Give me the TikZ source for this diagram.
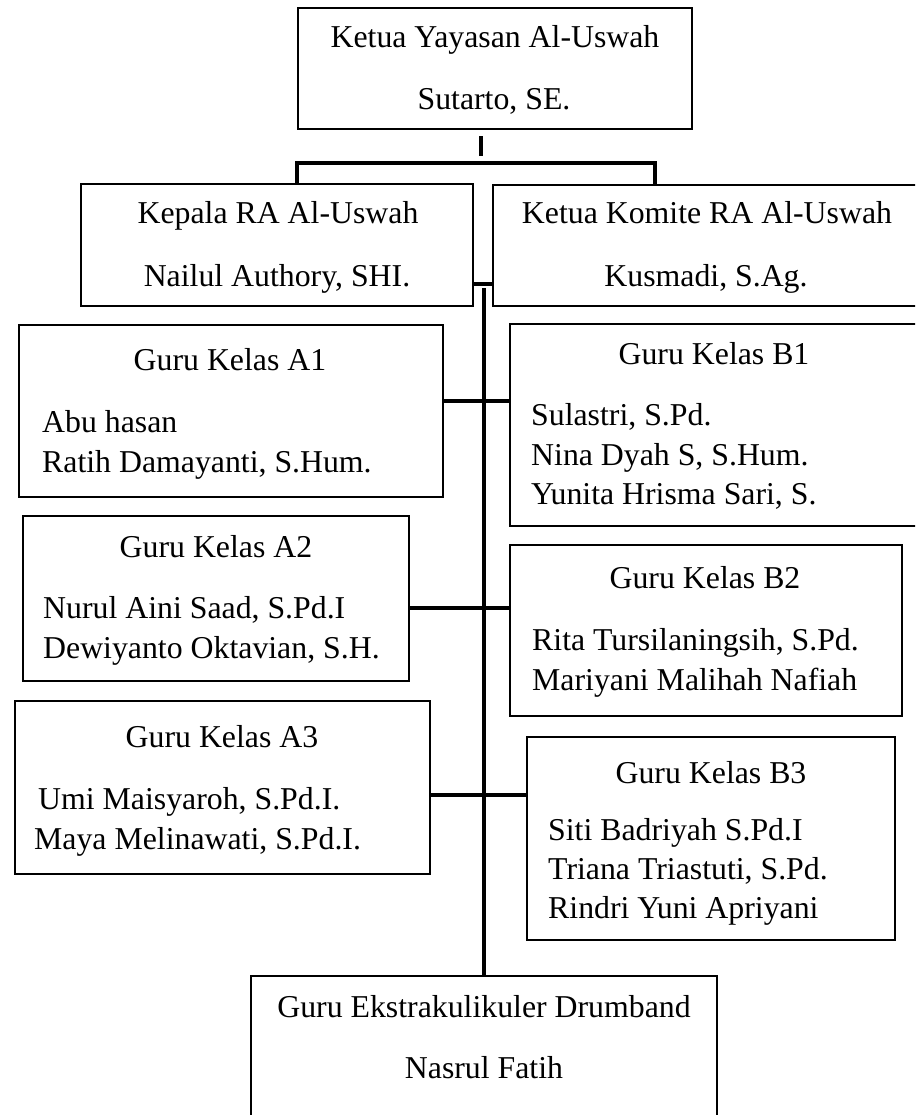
\documentclass[tikz,border=0pt]{standalone}
\usepackage{fontspec}
\setmainfont{Liberation Serif}
\usetikzlibrary{calc}
\begin{document}
\begin{tikzpicture}[x=1pt,y=-1pt,
  box/.style={draw, line width=2.4pt, rectangle, inner sep=0pt},
  conn/.style={line width=4.3pt},
  lbl/.style={anchor=base, inner sep=0pt, font=\fontsize{31.8pt}{40pt}\selectfont},
  lblw/.style={anchor=base west, inner sep=0pt, font=\fontsize{31.8pt}{40pt}\selectfont}]
\clip (0,0) rectangle (915,1115);
\fill[white] (0,0) rectangle (915,1115);
% boxes
\node[box, minimum width=394pt, minimum height=121pt] (top) at (495,68.5) {};
\node[box, minimum width=392pt, minimum height=122pt] (kep) at (277,245) {};
\node[box, minimum width=426pt, minimum height=121pt] (kom) at (706,245.5) {};
\node[box, minimum width=424pt, minimum height=172pt] (a1) at (231,411) {};
\node[box, minimum width=408pt, minimum height=202pt] (b1) at (714,425) {};
\node[box, minimum width=386pt, minimum height=165pt] (a2) at (216,598.5) {};
\node[box, minimum width=392pt, minimum height=171pt] (b2) at (706,630.5) {};
\node[box, minimum width=415pt, minimum height=173pt] (a3) at (222.5,787.5) {};
\node[box, minimum width=368pt, minimum height=203pt] (b3) at (711,838.5) {};
\node[box, minimum width=466pt, minimum height=149pt] (bot) at (484,1050.5) {};
% texts
\node[lbl] (t1) at (495,48) {Ketua Yayasan Al-Uswah};
\node[lbl] (t2) at (494,110) {Sutarto, SE.};
\node[lbl] (k1) at (278,223) {Kepala RA Al-Uswah};
\node[lbl] (k2) at (277,286) {Nailul Authory, SHI.};
\node[lbl] (m1) at (707,223) {Ketua Komite RA Al-Uswah};
\node[lbl] (m2) at (706,286) {Kusmadi, S.Ag.};
\node[lbl] (a1t) at (230,370) {Guru Kelas A1};
\node[lblw] (a1a) at (42,432) {Abu hasan};
\node[lblw] (a1b) at (42,472) {Ratih Damayanti, S.Hum.};
\node[lbl] (b1t) at (714,364) {Guru Kelas B1};
\node[lblw] (b1a) at (531,425) {Sulastri, S.Pd.};
\node[lblw] (b1b) at (531,465) {Nina Dyah S, S.Hum.};
\node[lblw] (b1c) at (531,504) {Yunita Hrisma Sari, S.};
\node[lbl] (a2t) at (216,557) {Guru Kelas A2};
\node[lblw] (a2a) at (43,618) {Nurul Aini Saad, S.Pd.I};
\node[lblw] (a2b) at (43,658) {Dewiyanto Oktavian, S.H.};
\node[lbl] (b2t) at (705,588) {Guru Kelas B2};
\node[lblw] (b2a) at (532,650) {Rita Tursilaningsih, S.Pd.};
\node[lblw] (b2b) at (532,690) {Mariyani Malihah Nafiah};
\node[lbl] (a3t) at (222,747) {Guru Kelas A3};
\node[lblw] (a3a) at (38,809) {Umi Maisyaroh, S.Pd.I.};
\node[lblw] (a3b) at (34,849) {Maya Melinawati, S.Pd.I.};
\node[lbl] (b3t) at (711,783) {Guru Kelas B3};
\node[lblw] (b3a) at (548,840) {Siti Badriyah S.Pd.I};
\node[lblw] (b3b) at (548,879) {Triana Triastuti, S.Pd.};
\node[lblw] (b3c) at (548,918) {Rindri Yuni Apriyani};
\node[lbl] (bt1) at (484,1017) {Guru Ekstrakulikuler Drumband};
\node[lbl] (bt2) at (484,1078) {Nasrul Fatih};
% connectors
\coordinate (s1) at ($(top.south)+(-14,6)$);
\coordinate (s2) at ($(top.south)+(-14,26)$);
\draw[conn] (s1) -- (s2);
\coordinate (barL) at (297,163);
\coordinate (barR) at (655,163);
\draw[conn] (kep.north -| barL) -- (barL) -- (barR) -- (kom.north -| barR);
\coordinate (lk) at (484,284);
\draw[line width=3.2pt] (kep.east |- lk) -- (kom.west |- lk);
\coordinate (sp) at (484,288);
\draw[conn] (sp) -- (bot.north);
\coordinate (r1) at (484,401);
\draw[conn] (a1.east |- r1) -- (b1.west |- r1);
\coordinate (r2) at (484,608);
\draw[conn] (a2.east |- r2) -- (b2.west |- r2);
\coordinate (r3) at (484,795);
\draw[conn] (a3.east |- r3) -- (b3.west |- r3);
\end{tikzpicture}
\end{document}
